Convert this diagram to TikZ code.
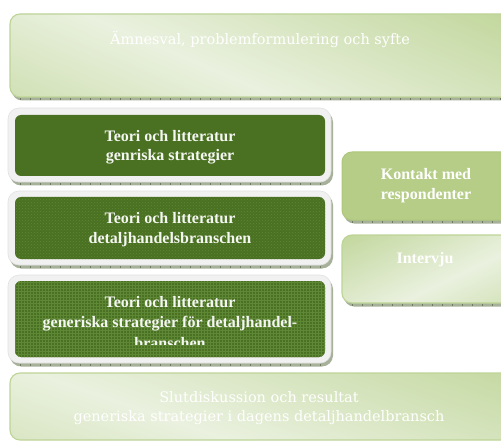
\documentclass[tikz,border=0pt]{standalone}
\usepackage{fontspec}
\setmainfont{Liberation Serif}
\newfontfamily\schfont{DejaVu Serif}
\usetikzlibrary{patterns}
\definecolor{leaf}{HTML}{4A7021}
\definecolor{leaflight}{HTML}{5E8835}
\definecolor{sage}{HTML}{B6CD87}
\definecolor{sagerim}{HTML}{AEC77C}
\definecolor{mintpale}{HTML}{EAF1DF}
\definecolor{mintdeep}{HTML}{C2D79D}
\definecolor{panelrim}{HTML}{BDD497}
\definecolor{stripfill}{HTML}{A7B19A}
\definecolor{striptick}{HTML}{6F7A63}
\definecolor{framefill}{HTML}{F1F1F1}
\definecolor{framerim}{HTML}{E2E2E2}
% narrow pale band through the middle of a large square
\pgfdeclarehorizontalshading{panelglow}{100bp}{color(0bp)=(mintdeep); color(36bp)=(mintdeep); color(50bp)=(mintpale); color(64bp)=(mintdeep); color(100bp)=(mintdeep)}
\tikzset{
  panelrimline/.style={rounded corners=10pt, draw=panelrim, line width=1.1pt},
  sagepanel/.style={rounded corners=10pt, draw=sagerim, line width=1pt, fill=sage},
  greyframe/.style={rounded corners=11pt, draw=framerim, line width=0.6pt, fill=framefill},
  leafbox/.style={rounded corners=6pt, fill=leaf},
  dropstrip/.style={rounded corners=10pt, fill=stripfill},
  ticks/.style={draw=striptick, line width=2.4pt, dash pattern=on 0.7pt off 9.3pt},
  paletext/.style={text=white, font=\schfont\fontsize{14.5}{19.5}\selectfont, align=center},
  boldtext/.style={text=white!94!leaf, font=\bfseries\fontsize{16}{19.5}\selectfont, align=center}
}
\begin{document}
\begin{tikzpicture}[x=1pt,y=-1pt]
\useasboundingbox (0,0) rectangle (501,441);
\fill[white] (0,0) rectangle (501,441);

% top panel
\fill[dropstrip] (12,20) rectangle (512,100.5);
\draw[ticks] (20,99) -- (505,99);
\begin{scope}
  \clip[rounded corners=10pt] (10,14) rectangle (512,97);
  \fill[mintdeep] (10,14) rectangle (512,97);
  \shade[shading=panelglow, shading angle=66.6] (-51.7,-215.1) rectangle (548.3,384.9);
\end{scope}
\draw[panelrimline] (10,14) rectangle (512,97);
\node[paletext] (topic) at (260,39.5) {Ämnesval, problemformulering och syfte};

% framed theory boxes
\foreach \ya/\yb in {108/182, 191/265, 275/363}{
  \fill[dropstrip, rounded corners=11pt] (10,\ya+3) rectangle (333,\yb+3.5);
  \draw[ticks] (20,\yb+2) -- (322,\yb+2);
  \path[greyframe] (8,\ya) rectangle (331,\yb);
}
\fill[leafbox] (15,115) rectangle (325,176);
\fill[leafbox] (15,197) rectangle (325,259);
\fill[leafbox, pattern color=leaflight, pattern=crosshatch dots] (15,197) rectangle (325,259);
\fill[leafbox] (15,281) rectangle (325,357);
\fill[leafbox, pattern color=leaflight, pattern=grid] (15,281) rectangle (325,357);

\node[boldtext] (theoryA) at (170,147) {Teori och litteratur\\genriska strategier};
\node[boldtext] (theoryB) at (170,229.5) {Teori och litteratur\\detaljhandelsbranschen};
\begin{scope}
  \clip (15,281) rectangle (325,344);
  \node[boldtext, font=\bfseries\fontsize{16}{20.5}\selectfont] (theoryC) at (170,322.5)
    {Teori och litteratur\\generiska strategier för detaljhandel-\\branschen};
\end{scope}

% right column
\fill[dropstrip] (344,156) rectangle (512,223.5);
\draw[ticks] (352,222) -- (505,222);
\path[sagepanel] (342,152) rectangle (512,220);
\node[boldtext, text=white] (contact) at (426,185.5) {Kontakt med\\respondenter};

\fill[dropstrip] (344,239) rectangle (512,306.5);
\draw[ticks] (352,305) -- (505,305);
\begin{scope}
  \clip[rounded corners=10pt] (342,235) rectangle (512,303);
  \fill[mintdeep] (342,235) rectangle (512,303);
  \shade[shading=panelglow, shading angle=-64.4] (281.2,132.1) rectangle (589.2,440.1);
\end{scope}
\draw[panelrimline] (342,235) rectangle (512,303);
\node[boldtext, text=white] (interview) at (425,260) {Intervju};

% closing panel
\begin{scope}
  \clip[rounded corners=10pt] (10,373) rectangle (512,440);
  \fill[mintdeep] (10,373) rectangle (512,440);
  \shade[shading=panelglow, shading angle=71] (-52.6,146.2) rectangle (547.4,746.2);
\end{scope}
\draw[panelrimline] (10,373) rectangle (512,440);
\node[paletext] (closing) at (259,408) {Slutdiskussion och resultat\\generiska strategier i dagens detaljhandelbransch};
\end{tikzpicture}
\end{document}
